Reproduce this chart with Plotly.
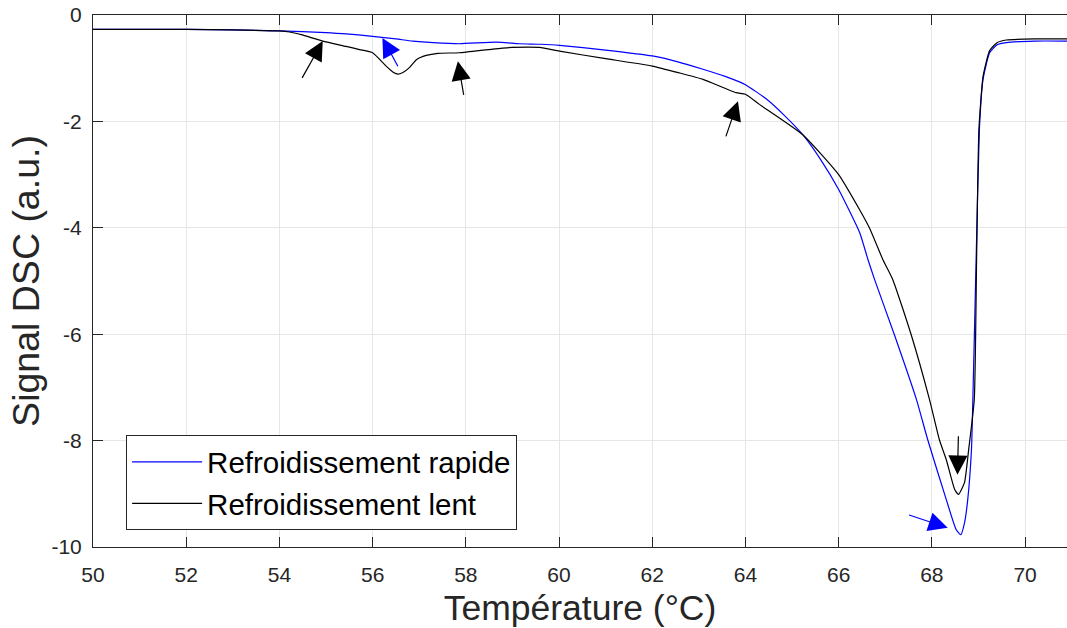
import plotly.graph_objects as go

# Refroidissement rapide (blue)
x_rapide = [50, 51, 52, 53, 54, 55, 55.5, 56, 56.5, 56.86, 57.3, 57.86, 58.66, 59.15, 59.6, 60.01,
            61, 62.0, 62.55, 63.09, 63.55, 64.0, 64.45, 64.85, 65.23, 65.6, 66.0, 66.45, 66.63,
            66.77, 67.2, 67.67, 67.91, 68.31, 68.52, 68.62, 68.7, 68.77, 68.85, 68.88, 68.95,
            69.02, 69.1, 69.24, 69.4, 69.6, 70.2, 70.9]
y_rapide = [-0.27, -0.27, -0.27, -0.28, -0.30, -0.33, -0.36, -0.40, -0.45, -0.49, -0.52, -0.54,
            -0.51, -0.54, -0.55, -0.57, -0.66, -0.77, -0.88, -1.02, -1.15, -1.31, -1.58, -1.9,
            -2.25, -2.7, -3.28, -4.09, -4.6, -4.97, -6.02, -7.23, -7.98, -9.11, -9.67, -9.77,
            -9.55, -9.11, -8.17, -7.23, -4.6, -2.15, -1.2, -0.71, -0.56, -0.52, -0.49, -0.49]

# Refroidissement lent (black)
x_lent = [50, 52, 53, 54, 54.22, 54.47, 54.93, 55.43, 55.72, 56.0, 56.29, 56.45, 56.54, 56.65,
          56.79, 56.94, 57.15, 57.4, 57.86, 58.58, 59.0, 59.58, 60.01, 61, 62.0, 62.59, 63.09,
          63.8, 64.0, 64.3, 65.23, 66.0, 66.45, 66.66, 66.95, 67.16, 67.56, 67.95, 68.16, 68.31,
          68.49, 68.57, 68.7, 68.79, 68.91, 68.96, 69.01, 69.1, 69.24, 69.4, 69.6, 70.2, 70.9]
y_lent = [-0.27, -0.27, -0.28, -0.30, -0.32, -0.37, -0.49, -0.59, -0.65, -0.71, -0.96, -1.08,
          -1.11, -1.08, -0.99, -0.84, -0.76, -0.72, -0.71, -0.64, -0.61, -0.61, -0.68, -0.82,
          -0.96, -1.09, -1.21, -1.46, -1.49, -1.68, -2.25, -3.0, -3.66, -4.0, -4.6, -4.97, -6.02,
          -7.23, -7.98, -8.36, -8.92, -9.01, -8.79, -8.17, -7.23, -4.6, -2.15, -1.15, -0.67,
          -0.52, -0.47, -0.45, -0.45]

# Arrows: head position, tail position, colour
arrow_head_x = [54.93, 57.83, 63.84, 68.55, 56.21, 68.34]
arrow_head_y = [-0.49, -0.87, -1.62, -8.64, -0.43, -9.64]
arrow_tail_x = [54.47, 57.96, 63.57, 68.57, 56.56, 67.48]
arrow_tail_y = [-1.21, -1.53, -2.31, -7.89, -0.99, -9.39]
arrow_colors = ["black", "black", "black", "black", "blue", "blue"]

x_ticks = [50, 52, 54, 56, 58, 60, 62, 64, 66, 68, 70]
y_ticks = [0, -2, -4, -6, -8, -10]

FONT = "Liberation Sans, Arial, sans-serif"
AX = "#262626"

fig = go.Figure()
fig.add_trace(go.Scatter(x=x_rapide, y=y_rapide, mode="lines", name="Refroidissement rapide",
                         line=dict(color="#0000ff", width=1.2, shape="spline", smoothing=0.5)))
fig.add_trace(go.Scatter(x=x_lent, y=y_lent, mode="lines", name="Refroidissement lent",
                         line=dict(color="#000000", width=1.2, shape="spline", smoothing=0.5)))

for hx, hy, tx, ty, c in zip(arrow_head_x, arrow_head_y, arrow_tail_x, arrow_tail_y, arrow_colors):
    fig.add_annotation(x=hx, y=hy, ax=tx, ay=ty, xref="x", yref="y", axref="x", ayref="y",
                       text="", showarrow=True, arrowhead=2, arrowsize=3.2, arrowwidth=1.2,
                       arrowcolor=c)

axis_common = dict(showline=True, linecolor=AX, linewidth=1, ticks="inside",
                   ticklen=10, tickcolor=AX, showgrid=True, gridcolor="#e6e6e6", gridwidth=1,
                   zeroline=False, automargin=False,
                   tickfont=dict(family=FONT, size=21, color=AX))

fig.update_layout(
    width=1067, height=628,
    margin=dict(l=93, r=0, t=15, b=81),
    paper_bgcolor="white", plot_bgcolor="white",
    showlegend=True,
    legend=dict(x=0.034, y=0.21, xanchor="left", yanchor="top",
                bgcolor="white", bordercolor=AX, borderwidth=1, itemwidth=70,
                font=dict(family=FONT, size=29.5, color="black"), tracegroupgap=0),
    xaxis=dict(range=[50, 70.9], tickvals=x_ticks, ticktext=[str(v) for v in x_ticks],
               mirror="ticks", ticklabelstandoff=9,
               title=dict(text="Température (°C)", font=dict(family=FONT, size=35.5, color=AX),
                          standoff=12), **axis_common),
    yaxis=dict(range=[-10, 0], tickvals=y_ticks, ticktext=[str(v) for v in y_ticks],
               mirror=False, ticklabelstandoff=6,
               title=dict(text="Signal DSC (a.u.)", font=dict(family=FONT, size=37.5, color=AX),
                          standoff=0), **axis_common),
)

fig.write_html("out.html", config={"displayModeBar": False},
               post_script="document.body.style.margin='0';document.body.style.overflow='hidden';")
